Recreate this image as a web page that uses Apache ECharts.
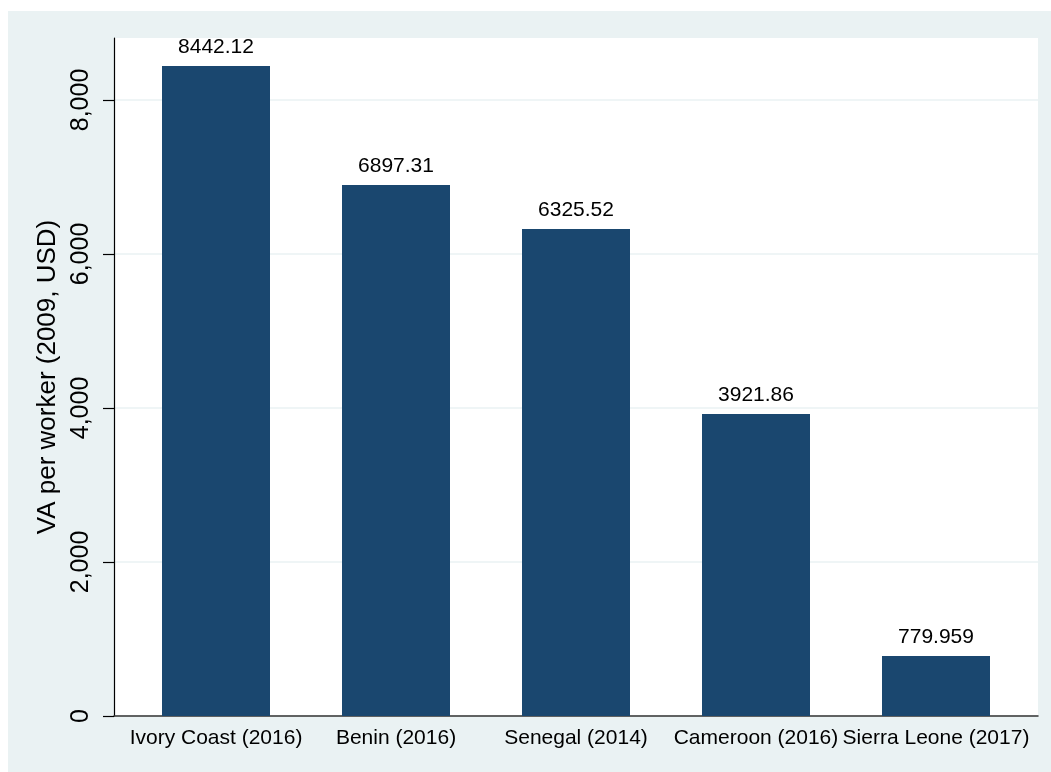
<!DOCTYPE html>
<html>
<head>
<meta charset="utf-8">
<script src="https://cdn.jsdelivr.net/npm/echarts@6/dist/echarts.min.js"></script>
<style>
html,body{margin:0;padding:0;background:#ffffff;}
#wrap{position:absolute;left:0;top:0;width:1051px;height:772px;background:#ffffff;}
#chart{position:absolute;left:8px;top:11px;width:1043px;height:761px;}
</style>
</head>
<body>
<div id="wrap"><div id="chart"></div></div>
<script>
const categories = ['Ivory Coast (2016)', 'Benin (2016)', 'Senegal (2014)', 'Cameroon (2016)', 'Sierra Leone (2017)'];
const values = [8442.12, 6897.31, 6325.52, 3921.86, 779.959];
const valueLabels = ['8442.12', '6897.31', '6325.52', '3921.86', '779.959'];
const yTicks = [0, 2000, 4000, 6000, 8000];
const yMax = 8805;
const yTitle = 'VA per worker (2009, USD)';

const FONT = "'Liberation Sans', Arial, Helvetica, sans-serif";
const chart = echarts.init(document.getElementById('chart'), null, {renderer: 'canvas'});
const gTop = 27, gBottom = 56;
chart.setOption({
  backgroundColor: '#eaf2f3',
  animation: false,
  grid: [
    {left: 118, right: 25, top: gTop, bottom: gBottom, show: false},
    {left: 106, right: 13, top: gTop, bottom: gBottom, show: true, backgroundColor: '#ffffff', borderWidth: 0}
  ],
  xAxis: [
    {
      gridIndex: 0, type: 'category', data: categories,
      axisLine: {show: false}, axisTick: {show: false},
      axisLabel: {color: '#000', fontFamily: FONT, fontSize: 21, margin: 12, interval: 0}
    },
    {
      gridIndex: 1, type: 'value', min: 0, max: 1,
      axisLine: {show: true, lineStyle: {color: '#333333', width: 1.5}},
      axisTick: {show: false}, axisLabel: {show: false}, splitLine: {show: false}
    }
  ],
  yAxis: [
    {gridIndex: 0, type: 'value', min: 0, max: yMax, show: false, splitLine: {show: false}},
    {
      gridIndex: 1, type: 'value', min: 0, max: yMax, interval: 2000,
      name: yTitle, nameLocation: 'middle', nameGap: 46, nameRotate: 90,
      nameTextStyle: {color: '#000', fontFamily: FONT, fontSize: 26},
      axisLine: {show: true, lineStyle: {color: '#000', width: 1.2}},
      axisTick: {show: true, length: 11, lineStyle: {color: '#000', width: 1.2}, customValues: yTicks},
      axisLabel: {
        color: '#000', fontFamily: FONT, fontSize: 25, rotate: 90, margin: 20,
        customValues: yTicks,
        formatter: v => v.toLocaleString('en-US')
      },
      splitLine: {show: true, lineStyle: {color: '#eaf2f3', width: 1.5}}
    }
  ],
  series: [{
    type: 'bar',
    xAxisIndex: 0, yAxisIndex: 0,
    data: values,
    barWidth: 108,
    itemStyle: {color: '#1a476f'},
    label: {
      show: true, position: 'top', distance: 8,
      color: '#000', fontFamily: FONT, fontSize: 21,
      formatter: p => valueLabels[p.dataIndex]
    }
  }]
});
</script>
</body>
</html>
